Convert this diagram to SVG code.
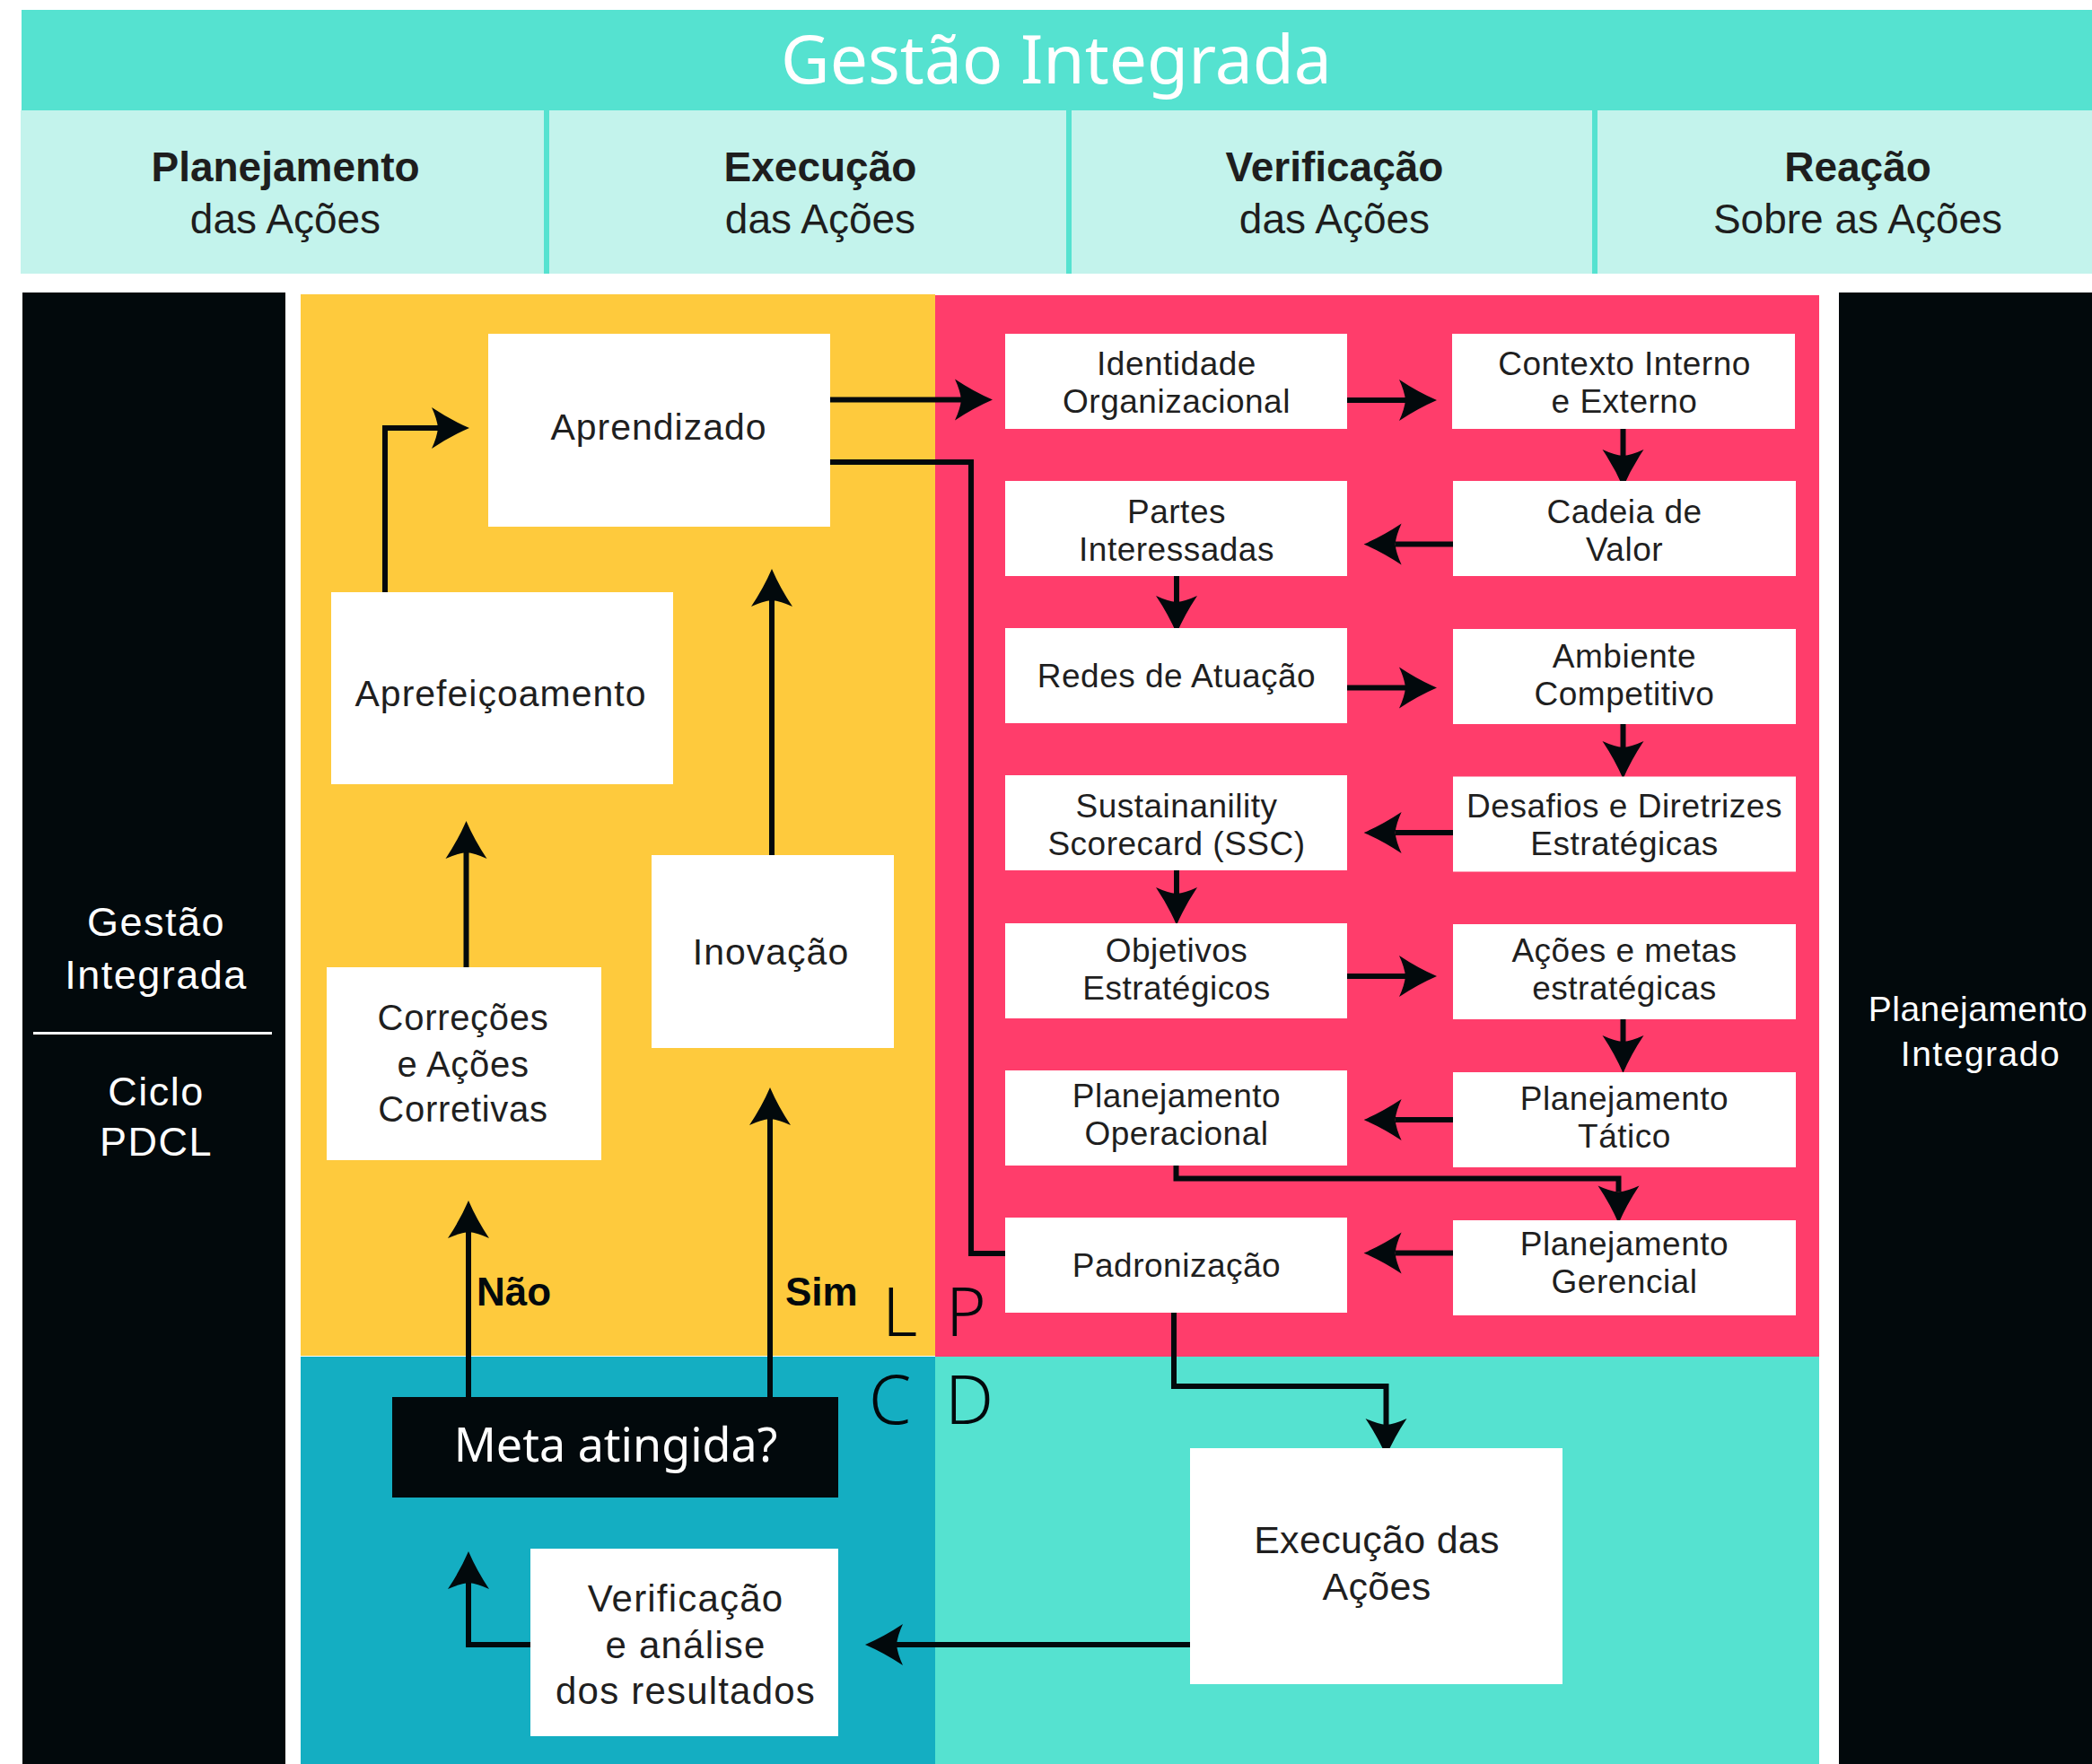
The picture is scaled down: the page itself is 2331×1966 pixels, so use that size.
<svg xmlns="http://www.w3.org/2000/svg" width="2331" height="1966" viewBox="0 0 2331 1966">
<style>
.box{fill:#ffffff}
.t{font-family:"Liberation Sans",Arial,sans-serif;fill:#1f1f1f;text-anchor:middle}
.ty{font-size:41px;letter-spacing:1px}
.tp{font-size:37px;letter-spacing:0.5px}
.hb{font-family:"Liberation Sans",Arial,sans-serif;font-weight:bold;font-size:46px;fill:#1e1e1e;text-anchor:middle}
.hr{font-family:"Liberation Sans",Arial,sans-serif;font-size:46px;fill:#1e1e1e;text-anchor:middle}
.w{font-family:"Noto Sans","Open Sans",sans-serif;fill:#ffffff;text-anchor:middle}
.wl{font-family:"Liberation Sans",Arial,sans-serif;fill:#ffffff;text-anchor:middle;letter-spacing:1.5px}
.lbl{font-family:"Liberation Sans",Arial,sans-serif;font-weight:bold;font-size:44px;fill:#02090C}
.big{font-family:"Noto Sans","Open Sans",sans-serif;font-weight:300;font-size:76px;fill:#02090C}
.con{fill:none;stroke:#02090C;stroke-width:6;stroke-linejoin:miter}
.arr{marker-end:url(#ah)}
</style>
<defs>
<marker id="ah" viewBox="-8 -25 45 50" markerWidth="45" markerHeight="50" refX="0" refY="0" orient="auto" markerUnits="userSpaceOnUse">
<path d="M35,0 Q14,-9 -7,-23 Q-1,-10 0,0 Q-1,10 -7,23 Q14,9 35,0 Z" fill="#02090C"/>
</marker>
</defs>
<rect width="2331" height="1966" fill="#ffffff"/>

<g id="header">
<rect x="24" y="11" width="2307" height="112" fill="#55E2D0"/>
<text x="1177" y="93" class="w" style="font-size:75px">Gestão Integrada</text>
<rect x="23" y="123" width="2308" height="182" fill="#C3F3EC"/>
<rect x="606" y="123" width="6" height="182" fill="#55E2D0"/>
<rect x="1188" y="123" width="6" height="182" fill="#55E2D0"/>
<rect x="1774" y="123" width="6" height="182" fill="#55E2D0"/>
</g>
<g id="col-planejamento"><text x="318" y="202" class="hb">Planejamento</text><text x="318" y="260" class="hr">das Ações</text></g>
<g id="col-execucao"><text x="914" y="202" class="hb">Execução</text><text x="914" y="260" class="hr">das Ações</text></g>
<g id="col-verificacao"><text x="1487" y="202" class="hb">Verificação</text><text x="1487" y="260" class="hr">das Ações</text></g>
<g id="col-reacao"><text x="2070" y="202" class="hb">Reação</text><text x="2070" y="260" class="hr">Sobre as Ações</text></g>

<g id="panel-left">
<rect x="25" y="326" width="293" height="1640" fill="#02090C"/>
<text x="174" y="1043" class="wl" style="font-size:45px">Gestão</text>
<text x="174" y="1102" class="wl" style="font-size:45px">Integrada</text>
<rect x="37" y="1150" width="266" height="3" fill="#ffffff"/>
<text x="174" y="1232" class="wl" style="font-size:45px">Ciclo</text>
<text x="174" y="1288" class="wl" style="font-size:45px">PDCL</text>
</g>
<g id="panel-right">
<rect x="2049" y="326" width="282" height="1640" fill="#02090C"/>
<text x="2204" y="1138" class="wl" style="font-size:39px;letter-spacing:0.5px">Planejamento</text>
<text x="2207" y="1188" class="wl" style="font-size:39px">Integrado</text>
</g>

<g id="quadrants">
<rect x="335" y="328" width="707" height="1183" fill="#FECA3D"/>
<rect x="1042" y="329" width="985" height="1183" fill="#FF3D6B"/>
<rect x="335" y="1512" width="707" height="454" fill="#14AEC2"/>
<rect x="1042" y="1512" width="985" height="454" fill="#55E2D0"/>
<text x="983" y="1489" class="big">L</text>
<text x="1054" y="1489" class="big">P</text>
<text x="968" y="1587" class="big">C</text>
<text x="1053" y="1587" class="big">D</text>
</g>

<g id="connectors">
<path class="con arr" d="M429,660 V477 H488"/>
<path class="con arr" d="M925,445.5 H1071"/>
<path class="con" d="M925,515 H1082 V1397 H1120"/>
<path class="con arr" d="M860,953 V669"/>
<path class="con arr" d="M519.5,1078 V950"/>
<path class="con arr" d="M522,1557 V1373"/>
<path class="con arr" d="M858,1557 V1247"/>
<path class="con arr" d="M591,1833 H522 V1764"/>
<path class="con arr" d="M1326,1833 H999"/>
<path class="con arr" d="M1308,1462 V1545 H1544.5 V1588"/>
<path class="con arr" d="M1501,446 H1566"/>
<path class="con arr" d="M1808.5,478 V508"/>
<path class="con arr" d="M1619,606.5 H1554.6"/>
<path class="con arr" d="M1311,642 V671"/>
<path class="con arr" d="M1501,766.5 H1566"/>
<path class="con arr" d="M1808.5,807 V833"/>
<path class="con arr" d="M1619,928 H1554.6"/>
<path class="con arr" d="M1311,970 V996"/>
<path class="con arr" d="M1501,1088 H1566"/>
<path class="con arr" d="M1808.5,1136 V1161"/>
<path class="con arr" d="M1619,1248 H1554.6"/>
<path class="con arr" d="M1310.5,1298.5 V1313.5 H1803.5 V1328.6"/>
<path class="con arr" d="M1619,1396.5 H1554.6"/>
</g>

<g id="n-aprendizado"><rect class="box" x="544" y="372" width="381" height="215"/><text x="734" y="489.5" class="t ty">Aprendizado</text></g>
<g id="n-aprefeicoamento"><rect class="box" x="369" y="660" width="381" height="214"/><text x="558" y="787" class="t ty">Aprefeiçoamento</text></g>
<g id="n-correcoes"><rect class="box" x="364" y="1078" width="306" height="215"/><text class="t" style="font-size:40px;letter-spacing:0.7px"><tspan x="516" y="1148">Correções</tspan><tspan x="516" y="1199.5">e Ações</tspan><tspan x="516" y="1250">Corretivas</tspan></text></g>
<g id="n-inovacao"><rect class="box" x="726" y="953" width="270" height="215"/><text x="859" y="1074.5" class="t ty">Inovação</text></g>
<g id="n-meta"><rect x="437" y="1557" width="497" height="112" fill="#02090C"/><text x="686" y="1629" class="w" style="font-size:52px">Meta atingida?</text></g>
<g id="n-verificacao"><rect class="box" x="591" y="1726" width="343" height="209"/><text class="t" style="font-size:42px;letter-spacing:1.2px"><tspan x="764" y="1796">Verificação</tspan><tspan x="764" y="1847.5">e análise</tspan><tspan x="764" y="1899">dos resultados</tspan></text></g>
<g id="n-execucao"><rect class="box" x="1326" y="1614" width="415" height="263"/><text class="t" style="font-size:43px;letter-spacing:0.3px"><tspan x="1534" y="1731">Execução das</tspan><tspan x="1534" y="1783">Ações</tspan></text></g>

<g id="n-identidade"><rect class="box" x="1120" y="372" width="381" height="106"/><text class="t tp"><tspan x="1311" y="418">Identidade</tspan><tspan x="1311" y="460">Organizacional</tspan></text></g>
<g id="n-contexto"><rect class="box" x="1618" y="372" width="382" height="106"/><text class="t tp"><tspan x="1810" y="418">Contexto Interno</tspan><tspan x="1810" y="460">e Externo</tspan></text></g>
<g id="n-partes"><rect class="box" x="1120" y="536" width="381" height="106"/><text class="t tp"><tspan x="1311" y="583">Partes</tspan><tspan x="1311" y="625">Interessadas</tspan></text></g>
<g id="n-cadeia"><rect class="box" x="1619" y="536" width="382" height="106"/><text class="t tp"><tspan x="1810" y="583">Cadeia de</tspan><tspan x="1810" y="625">Valor</tspan></text></g>
<g id="n-redes"><rect class="box" x="1120" y="700" width="381" height="106"/><text x="1311" y="766" class="t tp">Redes de Atuação</text></g>
<g id="n-ambiente"><rect class="box" x="1619" y="701" width="382" height="106"/><text class="t tp"><tspan x="1810" y="744">Ambiente</tspan><tspan x="1810" y="786">Competitivo</tspan></text></g>
<g id="n-ssc"><rect class="box" x="1120" y="864" width="381" height="106"/><text class="t tp"><tspan x="1311" y="910.5">Sustainanility</tspan><tspan x="1311" y="952.5">Scorecard (SSC)</tspan></text></g>
<g id="n-desafios"><rect class="box" x="1619" y="865.5" width="382" height="106"/><text class="t tp"><tspan x="1810" y="910.5">Desafios e Diretrizes</tspan><tspan x="1810" y="952.5">Estratégicas</tspan></text></g>
<g id="n-objetivos"><rect class="box" x="1120" y="1029" width="381" height="106"/><text class="t tp"><tspan x="1311" y="1071.5">Objetivos</tspan><tspan x="1311" y="1113.5">Estratégicos</tspan></text></g>
<g id="n-acoes"><rect class="box" x="1619" y="1030" width="382" height="106"/><text class="t tp"><tspan x="1810" y="1071.5">Ações e metas</tspan><tspan x="1810" y="1113.5">estratégicas</tspan></text></g>
<g id="n-operacional"><rect class="box" x="1120" y="1193" width="381" height="106"/><text class="t tp"><tspan x="1311" y="1233.5">Planejamento</tspan><tspan x="1311" y="1275.5">Operacional</tspan></text></g>
<g id="n-tatico"><rect class="box" x="1619" y="1195" width="382" height="106"/><text class="t tp"><tspan x="1810" y="1237">Planejamento</tspan><tspan x="1810" y="1279">Tático</tspan></text></g>
<g id="n-padronizacao"><rect class="box" x="1120" y="1357" width="381" height="106"/><text x="1311" y="1423" class="t tp">Padronização</text></g>
<g id="n-gerencial"><rect class="box" x="1619" y="1360" width="382" height="106"/><text class="t tp"><tspan x="1810" y="1399">Planejamento</tspan><tspan x="1810" y="1441">Gerencial</tspan></text></g>

<g id="labels">
<text x="531" y="1455" class="lbl">Não</text>
<text x="875" y="1455" class="lbl">Sim</text>
</g>
</svg>
